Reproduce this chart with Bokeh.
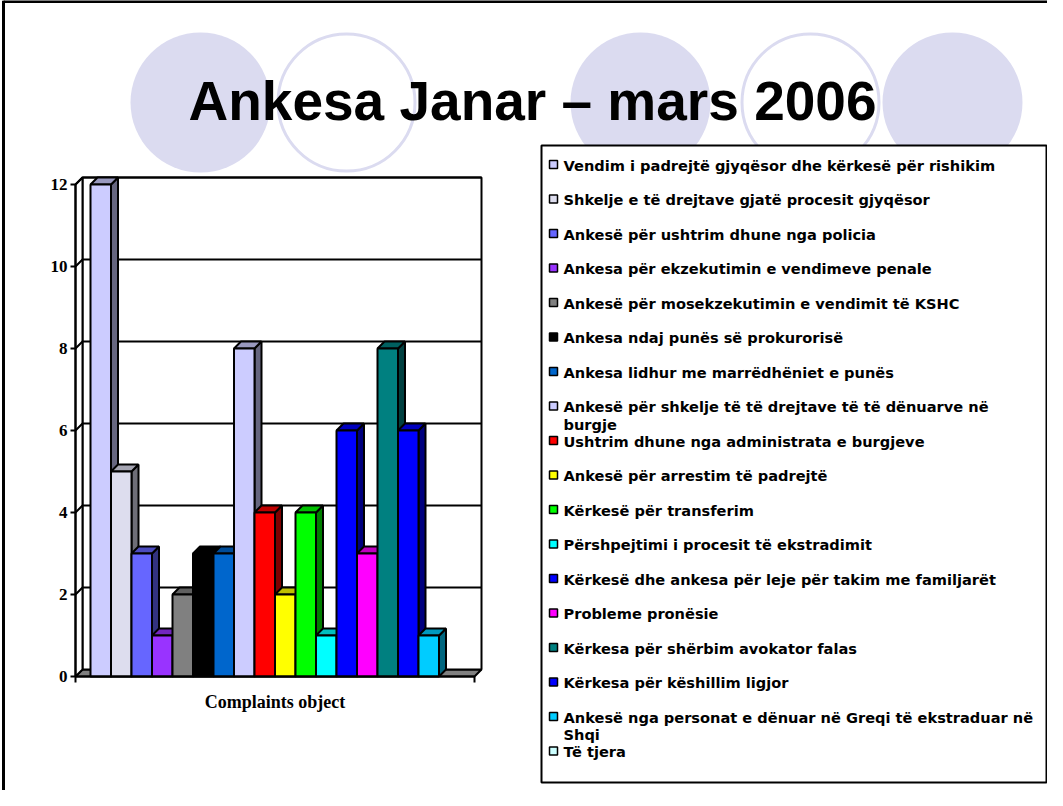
import textwrap
from bokeh.plotting import figure
from bokeh.models import Range1d, LinearAxis, FixedTicker, ColumnDataSource
from bokeh.embed import file_html
from bokeh.resources import INLINE
from bokeh.core.properties import value

# ---------------- data ----------------
title_text = "Ankesa Janar – mars 2006"
category_label = "Complaints object"
labels = [
    "Vendim i padrejtë gjyqësor dhe kërkesë për rishikim",
    "Shkelje e të drejtave gjatë procesit gjyqësor",
    "Ankesë për ushtrim dhune nga policia",
    "Ankesa për ekzekutimin e vendimeve penale",
    "Ankesë për mosekzekutimin e vendimit të KSHC",
    "Ankesa ndaj punës së prokurorisë",
    "Ankesa lidhur me marrëdhëniet e punës",
    "Ankesë për shkelje të të drejtave të të dënuarve në burgje",
    "Ushtrim dhune nga administrata e burgjeve",
    "Ankesë për arrestim të padrejtë",
    "Kërkesë për transferim",
    "Përshpejtimi i procesit të ekstradimit",
    "Kërkesë dhe ankesa për leje për takim me familjarët",
    "Probleme pronësie",
    "Kërkesa për shërbim avokator falas",
    "Kërkesa për këshillim ligjor",
    "Ankesë nga personat e dënuar në Greqi të ekstraduar në Shqi",
    "Të tjera",
]
values = [12, 5, 3, 1, 2, 3, 3, 8, 4, 2, 4, 1, 6, 3, 8, 6, 1, 0]
colors = ["#CCCCFF", "#DDDDEE", "#6666FF", "#9933FF", "#808080", "#000000",
          "#0066CC", "#CCCCFF", "#FF0000", "#FFFF00", "#00FF00", "#00FFFF",
          "#0000FF", "#FF00FF", "#008080", "#0000FF", "#00CCFF", "#CCFFFF"]
y_ticks = [0, 2, 4, 6, 8, 10, 12]

# ---------------- layout constants (screen px) ----------------
W, H = 1047, 790
OX, OY = 8, 8            # page margin: canvas origin on screen
PX_U = 20.5              # px per category slot
PX_V = 41.0              # px per value unit
X0 = 98.0                # screen x of first bar's left edge
Y0 = 684.0               # screen y of value 0 (front)
AXIS_X = 83.0            # screen x of value axis
DEPTH = 7.0              # 3-D depth in px

u_left = (AXIS_X - X0) / PX_U
n = len(values)
u_right = n - u_left
du = DEPTH / PX_U
dv = DEPTH / PX_V
vmax = y_ticks[-1]

p = figure(width=W, height=H, output_backend="svg", toolbar_location=None,
           x_range=Range1d((OX - X0) / PX_U, (OX + W - X0) / PX_U),
           y_range=Range1d((Y0 - (OY + H)) / PX_V, (Y0 - OY) / PX_V),
           x_axis_type=None, y_axis_type=None, min_border=0,
           outline_line_color=None, background_fill_color="white",
           border_fill_color="white")
p.extra_x_ranges = {"px": Range1d(OX, OX + W)}
p.extra_y_ranges = {"py": Range1d(OY + H, OY)}

# ---------------- slide decoration ----------------
lav = "#DBDBF0"
circ_x = [208, 354, 648, 818, 960]
circ_filled = [True, False, True, False, True]
for cx, filled in zip(circ_x, circ_filled):
    if filled:
        p.ellipse(x=[cx], y=[110], width=140, height=140, fill_color=lav,
                  line_color=None, x_range_name="px", y_range_name="py")
    else:
        p.ellipse(x=[cx], y=[110], width=137, height=137, fill_color=None,
                  line_color=lav, line_width=3, x_range_name="px", y_range_name="py")

p.segment(x0=[11, 11], y0=[8, 9], x1=[11, 1055], y1=[798, 9], line_color="black",
          line_width=3, x_range_name="px", y_range_name="py")

p.text(x=[540], y=[108], text=[title_text], text_font=value("Liberation Sans"),
       text_font_style="bold", text_font_size="55px", text_align="center",
       text_baseline="alphabetic", text_color="black",
       x_range_name="px", y_range_name="py")

# ---------------- 3-D walls ----------------
p.patches(xs=[[u_left, u_right, u_right + du, u_left + du]], ys=[[0, 0, dv, dv]],
          fill_color="#808080", line_color="black", line_width=2)
p.patches(xs=[[u_left + du, u_right + du, u_right + du, u_left + du],
              [u_left, u_left + du, u_left + du, u_left]],
          ys=[[dv, dv, vmax + dv, vmax + dv], [0, dv, vmax + dv, vmax]],
          fill_color="white", line_color="black", line_width=2)
gx, gy = [], []
for t in y_ticks[1:]:
    gx.append([u_left, u_left + du, u_right + du])
    gy.append([t, t + dv, t + dv])
p.multi_line(gx, gy, line_color="black", line_width=2)


def shade(hexc, f):
    h = hexc.lstrip("#")
    r, g, b = int(h[0:2], 16), int(h[2:4], 16), int(h[4:6], 16)
    return "#%02X%02X%02X" % (int(r * f), int(g * f), int(b * f))


bx, by, bf = [], [], []
for i, (v, c) in enumerate(zip(values, colors)):
    if v <= 0:
        continue
    x0, x1 = i, i + 1
    bx.append([x1, x1 + du, x1 + du, x1]); by.append([0, dv, v + dv, v]); bf.append(shade(c, 0.5))
    bx.append([x0, x1, x1 + du, x0 + du]); by.append([v, v, v + dv, v + dv]); bf.append(shade(c, 0.75))
    bx.append([x0, x1, x1, x0]); by.append([0, 0, v, v]); bf.append(c)
p.patches(xs="xs", ys="ys", fill_color="fc", line_color="black", line_width=2,
          source=ColumnDataSource(dict(xs=bx, ys=by, fc=bf)))

# ---------------- axes ----------------
yaxis = LinearAxis(fixed_location=u_left, bounds=(0, vmax),
                   ticker=FixedTicker(ticks=y_ticks, minor_ticks=[]),
                   axis_line_width=2, major_tick_line_width=2,
                   major_tick_out=5, major_tick_in=0, major_label_standoff=3,
                   major_label_text_font="Liberation Serif",
                   major_label_text_font_style="bold",
                   major_label_text_font_size="17px",
                   major_label_text_color="black")
p.add_layout(yaxis, "left")

mid = n / 2
xaxis = LinearAxis(fixed_location=0, bounds=(u_left, u_right),
                   ticker=FixedTicker(ticks=[mid], minor_ticks=[u_left, u_right]),
                   major_label_overrides={mid: category_label},
                   axis_line_width=2, major_tick_out=0, major_tick_in=0,
                   minor_tick_out=6, minor_tick_in=0, minor_tick_line_width=2,
                   major_label_standoff=9,
                   major_label_text_font="Liberation Serif",
                   major_label_text_font_style="bold",
                   major_label_text_font_size="18px",
                   major_label_text_color="black")
p.add_layout(xaxis, "below")

# ---------------- legend ----------------
p.quad(left=[549], right=[1054], top=[153], bottom=[790], fill_color="white",
       line_color="black", line_width=2, x_range_name="px", y_range_name="py")
LEG_Y0, LEG_DY = 172.0, 34.5
ly = [LEG_Y0 + LEG_DY * k for k in range(n)]
p.rect(x=[561] * n, y=ly, width=8, height=8, fill_color=colors, line_color="black",
       line_width=1.5, x_range_name="px", y_range_name="py")
p.text(x=[571] * n, y=[v - 8 for v in ly], text=[textwrap.fill(s, 54) for s in labels],
       text_font=value("DejaVu Sans"), text_font_style="bold", text_font_size="14.6px",
       text_baseline="top", text_align="left", text_color="black",
       text_line_height=1.05, x_range_name="px", y_range_name="py")

open("out.html", "w").write(file_html(p, INLINE))
